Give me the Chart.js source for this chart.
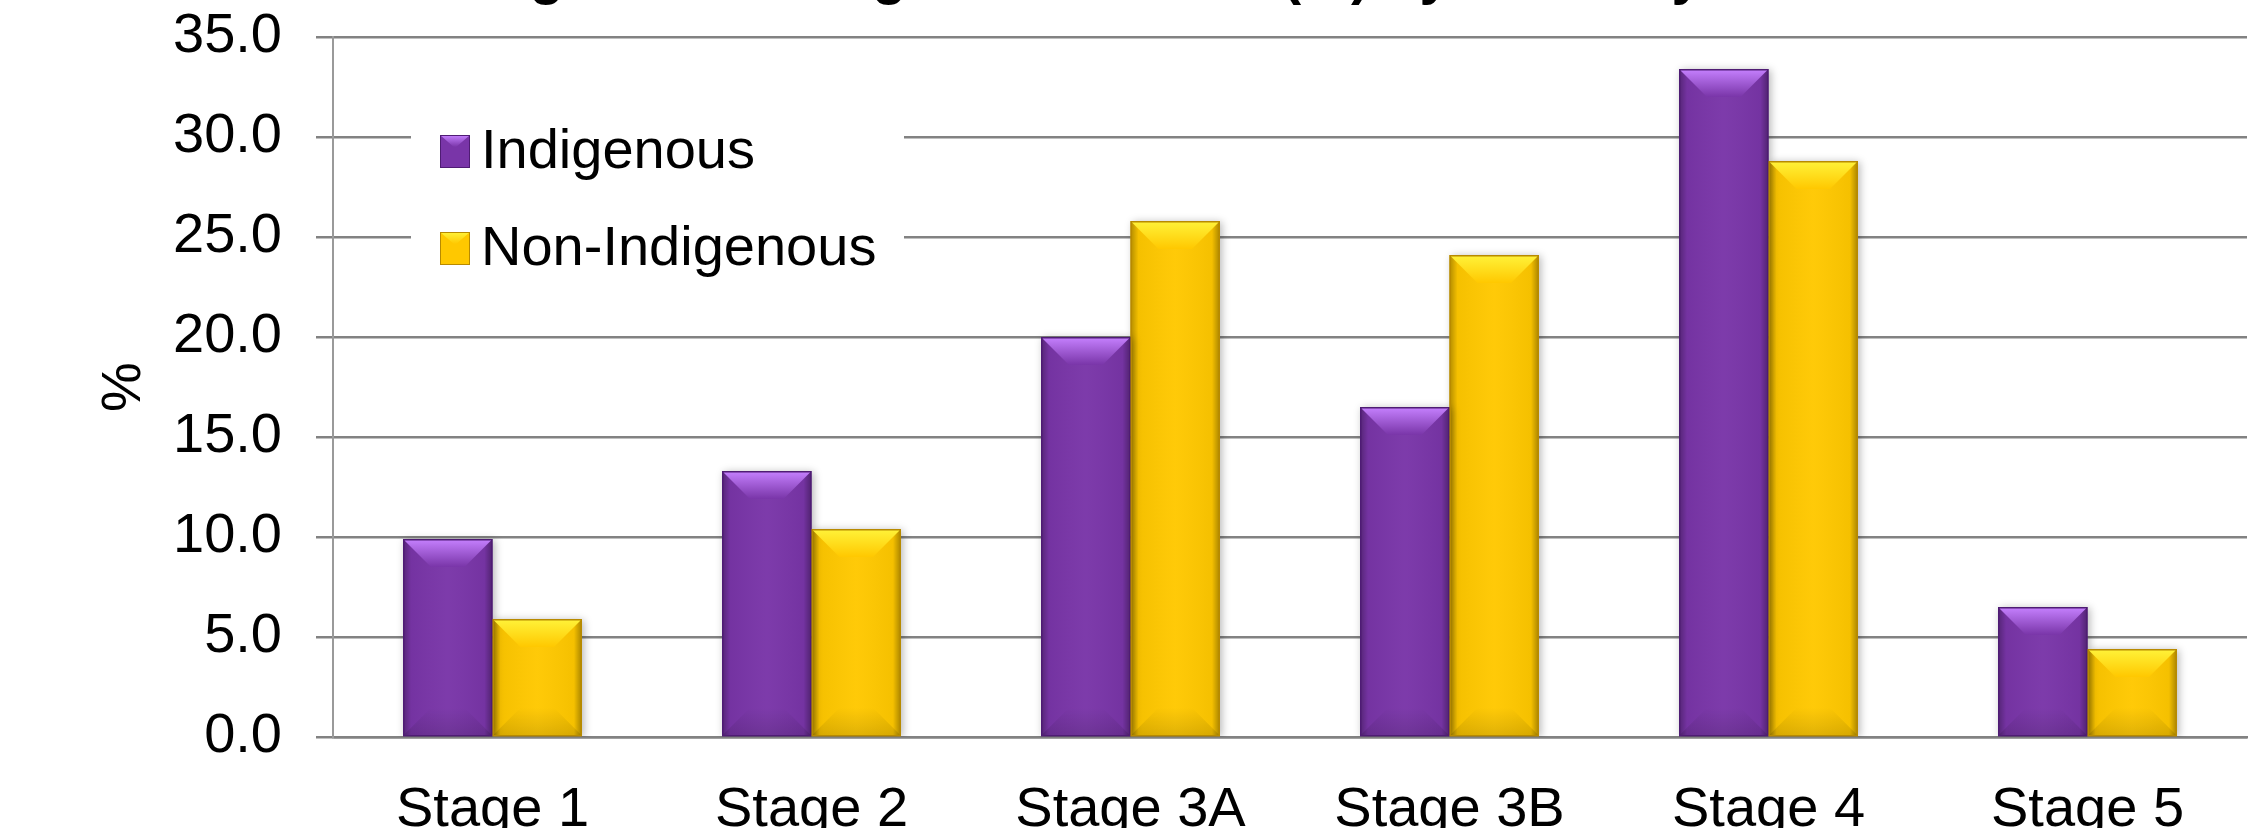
<!DOCTYPE html>
<html>
<head>
<meta charset="utf-8">
<script src="https://cdn.jsdelivr.net/npm/chart.js@4.4.0/dist/chart.umd.min.js"></script>
<style>
  html, body { margin: 0; padding: 0; background: #fff; overflow: hidden; }
  body { width: 2260px; height: 828px; position: relative; }
  #wrap { position: absolute; left: 0; top: -40px; width: 2260px; height: 918px; }
</style>
</head>
<body>
<div id="wrap"><canvas id="chart"></canvas></div>
<script>
// === Data ===
const chartTitle = "Lung Cancer Stage Distribution (%) by Ethnicity";
const stages = ["Stage 1", "Stage 2", "Stage 3A", "Stage 3B", "Stage 4", "Stage 5"];
const indigenous = [9.9, 13.3, 20.0, 16.5, 33.4, 6.5];
const nonIndigenous = [5.9, 10.4, 25.8, 24.1, 28.8, 4.4];
const yTicks = [0, 5, 10, 15, 20, 25, 30, 35];

// === Colours ===
const purple = "#7935a8";
const yellow = "#ffc800";
const lightTop = ["#c681ff", "#fff33a"];
const darkEdge = ["#4f1c74", "#b88a00"];
const gridGrey = "#828282";

Chart.defaults.font.family = "'Liberation Sans', Arial, sans-serif";
Chart.defaults.font.size = 56;
Chart.defaults.color = "#000";

// === Title (only its lower edge is inside the picture) ===
const titlePlugin = {
  id: "titleText",
  afterDraw(chart) {
    const ctx = chart.ctx;
    ctx.save();
    ctx.font = "bold 56px 'Liberation Sans', Arial, sans-serif";
    ctx.fillStyle = "#000";
    ctx.textAlign = "left";
    ctx.textBaseline = "alphabetic";
    ctx.fillText(chartTitle, 427, 33);
    ctx.restore();
  },
};

// === Bar bevel + shadow ===
const bevelPlugin = {
  id: "bevel",
  beforeDatasetsDraw(chart) {
    const ctx = chart.ctx;
    ctx.save();
    ctx.shadowColor = "rgba(0,0,0,0.28)";
    ctx.shadowBlur = 8;
    ctx.shadowOffsetX = 2;
    ctx.shadowOffsetY = 1;
  },
  afterDatasetsDraw(chart) {
    const ctx = chart.ctx;
    ctx.restore();
    ctx.save();
    chart.data.datasets.forEach((ds, i) => {
      chart.getDatasetMeta(i).data.forEach((bar) => {
        const { x, y, base, width } = bar.getProps(["x", "y", "base", "width"], true);
        const l = x - width / 2, r = x + width / 2, h = base - y;
        // side shading
        const g = ctx.createLinearGradient(l, 0, r, 0);
        g.addColorStop(0, "rgba(0,0,0,0.3)");
        g.addColorStop(0.09, "rgba(0,0,0,0.04)");
        g.addColorStop(0.5, "rgba(255,255,255,0.03)");
        g.addColorStop(0.91, "rgba(0,0,0,0.04)");
        g.addColorStop(1, "rgba(0,0,0,0.34)");
        ctx.fillStyle = g;
        ctx.fillRect(l, y, width, h);
        // top bevel
        const b = Math.min(28, h / 2);
        const tg = ctx.createLinearGradient(0, y, 0, y + b);
        tg.addColorStop(0, lightTop[i]);
        tg.addColorStop(1, ds.backgroundColor);
        ctx.fillStyle = tg;
        ctx.beginPath();
        ctx.moveTo(l + 1, y + 1);
        ctx.lineTo(r - 1, y + 1);
        ctx.lineTo(r - b, y + b);
        ctx.lineTo(l + b, y + b);
        ctx.closePath();
        ctx.fill();
        // bottom bevel
        const bg = ctx.createLinearGradient(0, base - b, 0, base);
        bg.addColorStop(0, "rgba(0,0,0,0)");
        bg.addColorStop(1, "rgba(0,0,0,0.12)");
        ctx.fillStyle = bg;
        ctx.beginPath();
        ctx.moveTo(l + b, base - b);
        ctx.lineTo(r - b, base - b);
        ctx.lineTo(r, base);
        ctx.lineTo(l, base);
        ctx.closePath();
        ctx.fill();
        // outline
        ctx.strokeStyle = darkEdge[i];
        ctx.lineWidth = 1.5;
        ctx.strokeRect(l + 0.75, y + 0.75, width - 1.5, h - 0.75);
      });
    });
    ctx.restore();
  },
};

// === Legend drawn inside the plot ===
const legendPlugin = {
  id: "innerLegend",
  afterDatasetsDraw(chart) {
    const { ctx, chartArea } = chart;
    const x0 = chartArea.left;
    const y0 = chartArea.top;
    ctx.save();
    ctx.fillStyle = "#fff";
    ctx.fillRect(x0 + 78, y0 + 63, 493, 190);
    chart.data.datasets.forEach((ds, i) => {
      const by = y0 + 98 + i * 97;
      const bx = x0 + 107;
      ctx.fillStyle = ds.backgroundColor;
      ctx.fillRect(bx, by, 30, 33);
      const tg = ctx.createLinearGradient(0, by, 0, by + 12);
      tg.addColorStop(0, lightTop[i]);
      tg.addColorStop(1, ds.backgroundColor);
      ctx.fillStyle = tg;
      ctx.beginPath();
      ctx.moveTo(bx, by);
      ctx.lineTo(bx + 30, by);
      ctx.lineTo(bx + 15, by + 13);
      ctx.closePath();
      ctx.fill();
      ctx.strokeStyle = darkEdge[i];
      ctx.lineWidth = 1;
      ctx.strokeRect(bx + 0.5, by + 0.5, 29, 32);
      ctx.fillStyle = "#000";
      ctx.font = "56px 'Liberation Sans', Arial, sans-serif";
      ctx.textBaseline = "middle";
      ctx.textAlign = "left";
      ctx.fillText(ds.label, x0 + 148, by + 18);
    });
    ctx.restore();
  },
};

// === Chart ===
new Chart(document.getElementById("chart"), {
  type: "bar",
  data: {
    labels: stages,
    datasets: [
      { label: "Indigenous", data: indigenous, backgroundColor: purple, borderWidth: 0 },
      { label: "Non-Indigenous", data: nonIndigenous, backgroundColor: yellow, borderWidth: 0 },
    ],
  },
  options: {
    responsive: true,
    maintainAspectRatio: false,
    animation: false,
    layout: { padding: { top: 77, right: 13, left: 0, bottom: 0 } },
    datasets: { bar: { barPercentage: 1.0, categoryPercentage: 0.561 } },
    plugins: {
      legend: { display: false },
      title: { display: false },
      tooltip: { enabled: false },
    },
    scales: {
      x: {
        grid: { display: false },
        border: { display: true, color: gridGrey, width: 2.5 },
        ticks: { padding: 32, font: { size: 56 }, color: "#000" },
        afterFit: (scale) => { scale.height = 141; },
      },
      y: {
        min: 0,
        max: 35,
        afterBuildTicks: (scale) => { scale.ticks = yTicks.map((v) => ({ value: v })); },
        ticks: { padding: 34, font: { size: 56 }, color: "#000", callback: (v) => Number(v).toFixed(1) },
        grid: { color: gridGrey, lineWidth: 2.5, drawTicks: true, tickLength: 17, tickColor: gridGrey },
        border: { display: true, color: "#9a9a9a", width: 2 },
        title: { display: true, text: "%", font: { size: 56 }, color: "#000", padding: { top: 91, bottom: 0 } },
        afterFit: (scale) => { scale.width = 333; },
      },
    },
  },
  plugins: [bevelPlugin, legendPlugin, titlePlugin],
});
</script>
</body>
</html>
